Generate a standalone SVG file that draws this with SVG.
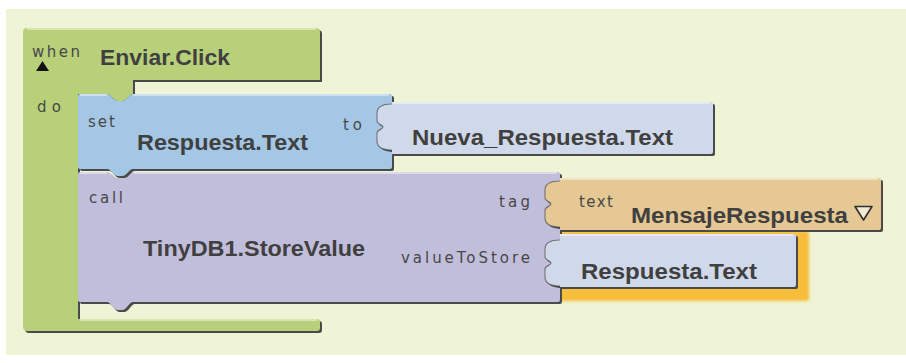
<svg xmlns="http://www.w3.org/2000/svg" xmlns:xlink="http://www.w3.org/1999/xlink" width="906" height="363" viewBox="0 0 906 363">
<style>
.sh{fill:#4a4a4a}
.hl{fill:none;stroke:#ffffff;stroke-opacity:0.45;stroke-width:2}
.edge{fill:none;stroke:#5a5a5a;stroke-opacity:0.7;stroke-width:1.2}
.lbl{font-family:"DejaVu Sans","Liberation Sans",Arial,sans-serif;font-size:15px;fill:#474747}
.big{font-family:"Liberation Sans",Arial,sans-serif;font-size:22px;font-weight:bold;fill:#404040}
</style>
<defs>
<path id="pG" d="M23,32 Q23,28 27,28 H316 Q320,28 320,32 V80 H133 V94 C129,94 127,101 122,101 L118,101 C113,101 111,94 107,94 H78 V319 H317 Q320,319 320,322 V328 Q320,331 317,331 H27 Q23,331 23,327 Z"/>
<path id="pB" d="M78,96 Q78,94 80,94 H107 C111,94 113,101 118,101 L122,101 C127,101 129,94 133,94 H390 Q392,94 392,96 V104 C385,104 377,106 377,113 L377,121 C377,124 383,125 383,127 C383,129 377,130 377,133 L377,141 C377,148 385,150 392,150 V167 Q392,169 390,169 H133 C129,169 127,176 122,176 L118,176 C113,176 111,169 107,169 H80 Q78,169 78,167 Z"/>
<path id="pN" d="M392,102 H711 Q713,102 713,104 V152 Q713,154 711,154 H392 V150 C385,150 377,148 377,141 L377,133 C377,130 383,129 383,127 C383,125 377,124 377,121 L377,113 C377,106 385,104 392,104 Z"/>
<path id="pP" d="M78,174 Q78,172 80,172 H107 C111,172 113,178 118,178 L122,178 C127,178 129,172 133,172 H558 Q560,172 560,174 V181 C553,181 545,183 545,190 L545,198 C545,201 551,202 551,204 C551,206 545,207 545,210 L545,218 C545,225 553,227 560,227 V240 C553,240 545,242 545,249 L545,257 C545,260 551,261 551,263 C551,265 545,266 545,269 L545,277 C545,284 553,286 560,286 V300 Q560,302 558,302 H133 C129,302 127,310 122,310 L118,310 C113,310 111,302 107,302 H80 Q78,302 78,300 Z"/>
<path id="pO" d="M560,178 H879 Q881,178 881,180 V228 Q881,230 879,230 H560 V227 C553,227 545,225 545,218 L545,210 C545,207 551,206 551,204 C551,202 545,201 545,198 L545,190 C545,183 553,181 560,181 Z"/>
<path id="pL" d="M560,234 H794 Q796,234 796,236 V285 Q796,287 794,287 H560 V286 C553,286 545,284 545,277 L545,269 C545,266 551,265 551,263 C551,261 545,260 545,257 L545,249 C545,242 553,240 560,240 Z"/>
<filter id="blur" x="-10%" y="-10%" width="120%" height="130%"><feGaussianBlur stdDeviation="1.6"/></filter>
</defs>
<rect x="0" y="0" width="906" height="363" fill="#ffffff"/>
<rect x="6" y="9" width="900" height="346" fill="#EEF4D5"/>

<g id="when-enviar-click">
<use href="#pG" class="sh" transform="translate(2,2)"/>
<use href="#pG" fill="#B9D07B"/>
<path class="hl" d="M27,29 H316"/>
<path class="hl" d="M80,320 H317"/>
<text class="lbl" x="32" y="57" textLength="48" lengthAdjust="spacing">when</text>
<polygon points="36,71 42.5,61 49,71" fill="#111111"/>
<text class="big" x="100" y="65" textLength="130" lengthAdjust="spacingAndGlyphs">Enviar.Click</text>
<text class="lbl" x="37" y="112" textLength="24" lengthAdjust="spacing">do</text>
</g>

<g id="selection-glow">
<rect x="553" y="231" width="256" height="70" rx="3" fill="#F7BD3B" filter="url(#blur)"/>
</g>

<g id="call-tinydb">
<use href="#pP" class="sh" transform="translate(2,2)"/>
<use href="#pP" fill="#C1BEDB"/>
<path class="hl" d="M80,173 H107 M133,173 H557"/>
<text class="lbl" x="89" y="203" textLength="34" lengthAdjust="spacing">call</text>
<text class="big" x="143" y="256" textLength="222" lengthAdjust="spacingAndGlyphs">TinyDB1.StoreValue</text>
<text class="lbl" x="499" y="207" textLength="31" lengthAdjust="spacing">tag</text>
<text class="lbl" x="401" y="263" textLength="129" lengthAdjust="spacing">valueToStore</text>
</g>

<g id="set-respuesta">
<use href="#pB" class="sh" transform="translate(2,2)"/>
<use href="#pB" fill="#A5C7E6"/>
<path class="hl" d="M80,95 H107 M133,95 H389"/>
<text class="lbl" x="88" y="127" textLength="27" lengthAdjust="spacing">set</text>
<text class="big" x="137" y="150" textLength="171" lengthAdjust="spacingAndGlyphs">Respuesta.Text</text>
<text class="lbl" x="343" y="130" textLength="19" lengthAdjust="spacing">to</text>
</g>

<g id="nueva-respuesta">
<use href="#pN" class="sh" transform="translate(2,2)"/>
<use href="#pN" fill="#D0D9EA"/>
<path class="edge" d="M392,104 C385,104 377,106 377,113 L377,121 C377,124 383,125 383,127 C383,129 377,130 377,133 L377,141 C377,148 385,150 392,150"/>
<path class="hl" d="M392,103 H710"/>
<text class="big" x="412" y="145" textLength="261" lengthAdjust="spacingAndGlyphs">Nueva_Respuesta.Text</text>
</g>

<g id="text-mensaje">
<use href="#pO" class="sh" transform="translate(2,2)"/>
<use href="#pO" fill="#E6C894"/>
<path class="edge" d="M560,181 C553,181 545,183 545,190 L545,198 C545,201 551,202 551,204 C551,206 545,207 545,210 L545,218 C545,225 553,227 560,227"/>
<path class="hl" d="M560,179 H878"/>
<text class="lbl" x="579" y="207" textLength="34" lengthAdjust="spacing">text</text>
<text class="big" x="631" y="223" textLength="217" lengthAdjust="spacingAndGlyphs">MensajeRespuesta</text>
<polygon points="855,206.5 872,206.5 863.5,220" fill="#F3E8D2" stroke="#2e2e2e" stroke-width="1.6" stroke-linejoin="round"/>
</g>

<g id="respuesta-text">
<use href="#pL" class="sh" transform="translate(2,2)"/>
<use href="#pL" fill="#D0D9EA"/>
<path class="edge" d="M560,240 C553,240 545,242 545,249 L545,257 C545,260 551,261 551,263 C551,265 545,266 545,269 L545,277 C545,284 553,286 560,286"/>
<path class="hl" d="M560,235 H793"/>
<text class="big" x="581" y="279" textLength="176" lengthAdjust="spacingAndGlyphs">Respuesta.Text</text>
</g>

<g id="connectors"></g>
</svg>
